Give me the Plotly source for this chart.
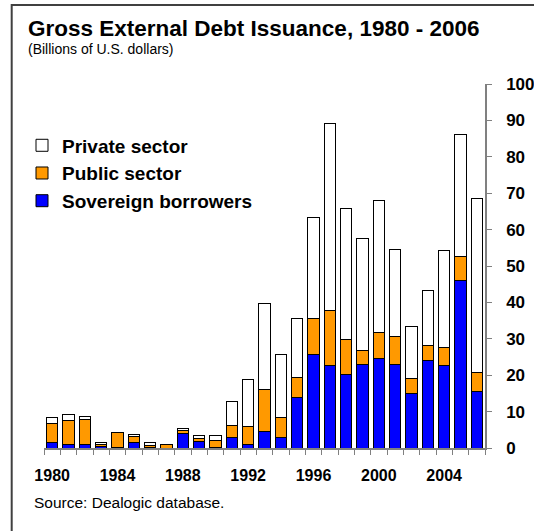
import plotly.graph_objects as go

years = list(range(1980, 2007))
sovereign = [1.5, 0.9, 0.9, 0.3, 0.2, 1.4, 0.2, 0.0, 3.9, 1.7, 0.1, 3.0, 0.9, 4.5, 3.0,
             13.8, 25.8, 22.6, 20.1, 22.9, 24.5, 23.0, 15.0, 24.1, 22.6, 46.1, 15.4]
public = [5.2, 6.6, 6.8, 0.6, 4.0, 1.8, 0.6, 1.0, 0.9, 1.0, 1.9, 3.3, 5.1, 11.7, 5.5,
          5.7, 9.7, 15.3, 9.8, 4.0, 7.3, 7.7, 4.2, 4.1, 4.9, 6.6, 5.4]
private = [1.6, 1.7, 0.9, 0.5, 0.0, 0.5, 0.6, 0.0, 0.5, 0.6, 1.3, 6.4, 12.8, 23.6, 17.3,
           16.2, 27.9, 51.3, 36.0, 30.6, 36.2, 23.7, 14.3, 15.1, 26.8, 33.4, 47.8]
label_years = [1980, 1984, 1988, 1992, 1996, 2000, 2004]
y_ticks = list(range(0, 101, 10))

FONT = "Arial, Liberation Sans, sans-serif"
W, H = 534, 531
L, R, T, B = 44, 49, 84, 82.5
PW, PH = W - L - R, H - T - B


def px(x):
    return (x - L) / PW


def py(y):
    return (H - B - y) / PH


fig = go.Figure()
line = dict(color="#000000", width=1)
fig.add_bar(x=years, y=sovereign, name="Sovereign borrowers", marker=dict(color="#0000FF", line=line))
fig.add_bar(x=years, y=public, name="Public sector", marker=dict(color="#FF9900", line=line))
fig.add_bar(x=years, y=private, name="Private sector", marker=dict(color="#FFFFFF", line=line))

fig.update_layout(
    width=W, height=H,
    margin=dict(l=L, r=R, t=T, b=B, autoexpand=False),
    paper_bgcolor="white", plot_bgcolor="white",
    barmode="stack", bargap=0.32,
    font=dict(family=FONT, color="black"),
    showlegend=True,
    legend=dict(x=px(22), y=py(126.5), xanchor="left", yanchor="top",
                traceorder="reversed", bgcolor="rgba(0,0,0,0)",
                font=dict(size=19, weight="bold", family=FONT, color="black")),
    xaxis=dict(range=[1979.5, 2006.5], tickvals=label_years, ticks="",
               showline=True, linecolor="#808080", linewidth=1.5,
               showgrid=False, zeroline=False, automargin=False,
               tickfont=dict(size=16, weight="bold", family=FONT, color="black"),
               ticklabelstandoff=12,
               minor=dict(tickvals=[y - 0.5 for y in years] + [2006.5], ticks="outside",
                          ticklen=5, tickcolor="#808080", tickwidth=1.2, showgrid=False)),
    yaxis=dict(range=[0, 100], tickvals=y_ticks, side="right",
               showline=True, linecolor="#808080", linewidth=1.5,
               ticks="outside", ticklen=5, tickcolor="#808080", tickwidth=1.2,
               showgrid=False, zeroline=False, automargin=False,
               tickfont=dict(size=17, weight="bold", family=FONT, color="black"),
               ticklabelstandoff=11),
)

fig.add_annotation(text="Gross External Debt Issuance, 1980 - 2006", xref="paper", yref="paper",
                   x=px(26), y=py(28.5), xanchor="left", yanchor="middle", showarrow=False,
                   font=dict(size=22.5, weight="bold", family=FONT, color="black"))
fig.add_annotation(text="(Billions of U.S. dollars)", xref="paper", yref="paper",
                   x=px(26), y=py(48.5), xanchor="left", yanchor="middle", showarrow=False,
                   font=dict(size=14, family=FONT, color="black"))
fig.add_annotation(text="Source: Dealogic database.", xref="paper", yref="paper",
                   x=px(32), y=py(503), xanchor="left", yanchor="middle", showarrow=False,
                   font=dict(size=15.5, family=FONT, color="black"))

fig.add_shape(type="rect", xref="paper", yref="paper",
              x0=px(11.7), y0=py(5), x1=px(700), y1=py(700),
              line=dict(color="#404040", width=2), layer="below")

fig.write_html("out.html")
